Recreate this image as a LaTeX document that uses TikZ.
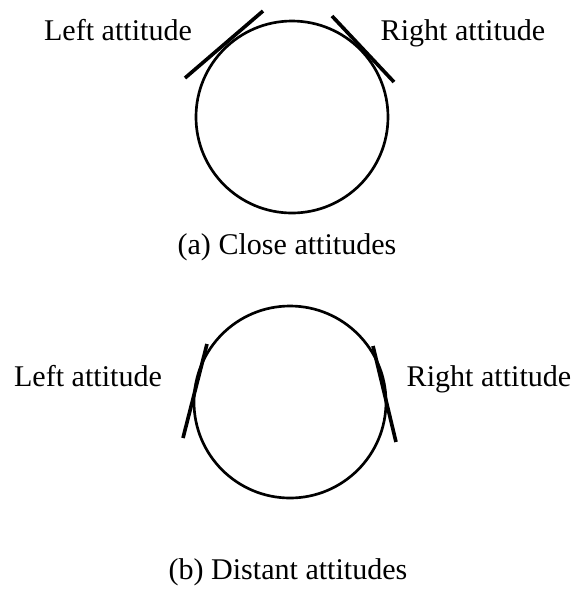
\documentclass[tikz,border=0pt]{standalone}
\usepackage{fontspec}
\setmainfont{Liberation Serif}
\begin{document}
\begin{tikzpicture}[x=0.0145cm, y=-0.0145cm, font=\fontsize{12.4}{15}\selectfont]
	\useasboundingbox (0,0) rectangle (576,592);
	
	% 1. (a) 两个姿态很接近
	\draw[line width=1.1pt] (292,117) circle[radius=96];
	\coordinate (aL1) at (185,78);
	\coordinate (aL2) at (263,11);
	\coordinate (aR1) at (332,16);
	\coordinate (aR2) at (394,82);
	\draw[line width=1.5pt] (aL1) -- (aL2);
	\draw[line width=1.5pt] (aR1) -- (aR2);
	\node[anchor=base, inner sep=0pt] (aleft) at (118,40) {Left attitude};
	\node[anchor=base, inner sep=0pt] (aright) at (463,40) {Right attitude};
	\node[anchor=base, inner sep=0pt] (acap) at (287,254) {(a) Close attitudes};
	
	% 2. (b) 两个姿态相距较远
	\draw[line width=1.1pt] (290,402) circle[radius=96];
	\coordinate (bL1) at (183,438);
	\coordinate (bL2) at (207,344);
	\coordinate (bR1) at (373,346);
	\coordinate (bR2) at (396,442);
	\draw[line width=1.5pt] (bL1) -- (bL2);
	\draw[line width=1.5pt] (bR1) -- (bR2);
	\node[anchor=base, inner sep=0pt] (bleft) at (88,386) {Left attitude};
	\node[anchor=base, inner sep=0pt] (bright) at (489,386) {Right attitude};
	\node[anchor=base, inner sep=0pt] (bcap) at (288,579) {(b) Distant attitudes};
	
\end{tikzpicture}
\end{document}
